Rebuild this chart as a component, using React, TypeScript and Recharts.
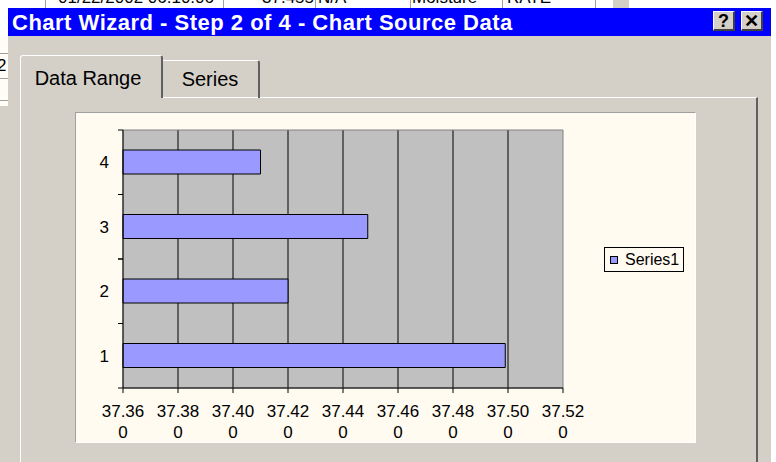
import React from "react";
import {
  BarChart,
  Bar,
  XAxis,
  YAxis,
  CartesianGrid,
  Legend,
  ReferenceArea,
} from "recharts";

const categories = ["1", "2", "3", "4"];
const values = [37.499, 37.42, 37.449, 37.41];
const xTicks = [37.36, 37.38, 37.4, 37.42, 37.44, 37.46, 37.48, 37.5, 37.52];
const seriesName = "Series1";

const FONT = '"Liberation Sans", Arial, sans-serif';
const GRAY = "#d4d0c8";
const CREAM = "#fffbf0";
const BAR = "#9999ff";

const CHART_W = 619;
const CHART_H = 329;
const LEGEND_W = 80;
// right margin leaves room for the legend that recharts reserves on the right
const MARGIN = { top: 17, right: 132 - LEGEND_W, bottom: 14, left: 7 };
const Y_AXIS_W = 40;
const X_AXIS_H = 40;
const PLOT_H = CHART_H - MARGIN.top - MARGIN.bottom - X_AXIS_H;

const data = categories.map((c, i) => ({ cat: c, value: values[i] }));

function YTick({ x = 0, y = 0, payload }: any) {
  const band = PLOT_H / categories.length;
  return (
    <g>
      <line x1={x - 5} x2={x} y1={y - band / 2} y2={y - band / 2} stroke="#000" />
      <line x1={x - 5} x2={x} y1={y + band / 2} y2={y + band / 2} stroke="#000" />
      <text
        x={x - 14}
        y={y + 6}
        textAnchor="end"
        fontFamily={FONT}
        fontSize={17}
        fill="#000"
      >
        {payload.value}
      </text>
    </g>
  );
}

function XTick({ x = 0, y = 0, payload }: any) {
  const label = Number(payload.value).toFixed(3);
  return (
    <g>
      <text textAnchor="middle" fontFamily={FONT} fontSize={17} fill="#000">
        <tspan x={x} y={y + 22}>
          {label.slice(0, -1)}
        </tspan>
        <tspan x={x} y={y + 43}>
          {label.slice(-1)}
        </tspan>
      </text>
    </g>
  );
}

function LegendBox() {
  return (
    <div
      style={{
        width: 78,
        height: 23,
        border: "1px solid #000",
        background: CREAM,
        display: "flex",
        alignItems: "center",
        fontFamily: FONT,
        fontSize: 16,
      }}
    >
      <span
        style={{
          width: 6,
          height: 6,
          border: "1px solid #000",
          background: BAR,
          marginLeft: 5,
          marginRight: 7,
        }}
      />
      <span>{seriesName}</span>
    </div>
  );
}

function SourceChart() {
  return (
    <BarChart
      width={CHART_W}
      height={CHART_H}
      data={data}
      layout="vertical"
      margin={MARGIN}
      barSize={24}
    >
      <CartesianGrid
        horizontal={false}
        stroke="#000"
        fill="#c0c0c0"
        verticalValues={xTicks.slice(1, -1)}
      />
      <ReferenceArea
        x1={xTicks[0]}
        x2={xTicks[xTicks.length - 1]}
        fill="none"
        stroke="#808080"
        ifOverflow="visible"
      />
      <XAxis
        type="number"
        domain={[xTicks[0], xTicks[xTicks.length - 1]]}
        ticks={xTicks}
        interval={0}
        height={X_AXIS_H}
        stroke="#000"
        tickSize={5}
        tick={<XTick />}
      />
      <YAxis
        type="category"
        dataKey="cat"
        reversed
        width={Y_AXIS_W}
        stroke="#000"
        tickLine={false}
        tickSize={0}
        tickMargin={0}
        interval={0}
        tick={<YTick />}
      />
      <Legend
        layout="vertical"
        align="right"
        verticalAlign="middle"
        content={<LegendBox />}
        wrapperStyle={{ left: 528, top: 134, width: LEGEND_W, height: 25 }}
      />
      <Bar
        dataKey="value"
        name={seriesName}
        fill={BAR}
        stroke="#000"
        strokeWidth={1}
        isAnimationActive={false}
      />
    </BarChart>
  );
}

const sheetCells = [
  { text: "01/22/2002 06:10:06", left: 58 },
  { text: "37.455", left: 262 },
  { text: "N/A", left: 318 },
  { text: "Moisture", left: 412 },
  { text: "RATE", left: 507 },
];
const sheetLines = [45, 223, 315, 410, 502, 595];

function TitleButton({ left, glyph }: { left: number; glyph: string }) {
  return (
    <div
      style={{
        position: "absolute",
        left,
        top: 11,
        width: 22,
        height: 20,
        background: GRAY,
        borderTop: "1px solid #fff",
        borderLeft: "1px solid #fff",
        borderRight: "2px solid #404040",
        borderBottom: "2px solid #404040",
        boxSizing: "border-box",
        fontFamily: FONT,
        fontWeight: "bold",
        fontSize: 18,
        lineHeight: "18px",
        textAlign: "center",
        color: "#000",
      }}
    >
      {glyph}
    </div>
  );
}

export default function App() {
  return (
    <div
      style={{
        position: "fixed",
        left: 0,
        top: 0,
        width: 776,
        height: 462,
        overflow: "hidden",
        background: "#fff",
        fontFamily: FONT,
      }}
    >
      {/* spreadsheet strip behind the dialog */}
      <div style={{ position: "absolute", left: 0, top: 0, width: 776, height: 8, overflow: "hidden" }}>
        {sheetCells.map((c) => (
          <div
            key={c.text}
            style={{ position: "absolute", left: c.left, top: -12, fontSize: 17, color: "#000" }}
          >
            {c.text}
          </div>
        ))}
        {sheetLines.map((x) => (
          <div key={x} style={{ position: "absolute", left: x, top: 0, width: 1, height: 8, background: "#a0a0a0" }} />
        ))}
        <div style={{ position: "absolute", left: 613, top: 0, width: 16, height: 8, background: GRAY }} />
      </div>
      <div style={{ position: "absolute", left: 0, top: 36, width: 8, height: 70, background: "#fffdf6" }}>
        {[17, 42, 64].map((y) => (
          <div key={y} style={{ position: "absolute", left: 0, top: y, width: 8, height: 1, background: "#a0a0a0" }} />
        ))}
        <div style={{ position: "absolute", left: -3, top: 20, fontSize: 17 }}>2</div>
      </div>
      <div style={{ position: "absolute", left: 0, top: 106, width: 8, height: 356, background: GRAY }} />

      {/* dialog */}
      <div style={{ position: "absolute", left: 8, top: 8, width: 763, height: 454, background: GRAY }}>
        <div
          style={{
            position: "absolute",
            left: 0,
            top: 0,
            width: 763,
            height: 28,
            background: "#0000ff",
            color: "#fff",
            fontWeight: "bold",
            fontSize: 22,
            letterSpacing: 0.5,
            lineHeight: "29px",
            paddingLeft: 4,
            boxSizing: "border-box",
            whiteSpace: "nowrap",
          }}
        >
          Chart Wizard - Step 2 of 4 - Chart Source Data
        </div>
      </div>
      <TitleButton left={713} glyph="?" />
      <TitleButton left={741} glyph="✕" />

      {/* tab panel */}
      <div
        style={{
          position: "absolute",
          left: 20,
          top: 97,
          width: 738,
          height: 380,
          borderTop: "1px solid #fff",
          borderLeft: "1px solid #fff",
          borderRight: "2px solid #606060",
          boxSizing: "border-box",
        }}
      />
      <div
        style={{
          position: "absolute",
          left: 162,
          top: 60,
          width: 98,
          height: 38,
          borderTop: "1px solid #fff",
          borderRight: "2px solid #606060",
          borderTopRightRadius: 3,
          boxSizing: "border-box",
          fontSize: 20,
          lineHeight: "36px",
          textAlign: "center",
          color: "#000",
        }}
      >
        Series
      </div>
      <div
        style={{
          position: "absolute",
          left: 20,
          top: 55,
          width: 143,
          height: 43,
          background: GRAY,
          borderTop: "1px solid #fff",
          borderLeft: "1px solid #fff",
          borderRight: "2px solid #606060",
          borderTopLeftRadius: 3,
          borderTopRightRadius: 3,
          boxSizing: "border-box",
          fontSize: 20,
          lineHeight: "44px",
          paddingRight: 6,
          textAlign: "center",
          color: "#000",
        }}
      >
        Data Range
      </div>

      {/* chart area */}
      <div
        style={{
          position: "absolute",
          left: 75,
          top: 112,
          width: CHART_W + 2,
          height: CHART_H + 2,
          background: CREAM,
          borderTop: "1px solid #a0a0a0",
          borderLeft: "1px solid #a0a0a0",
          borderRight: "1px solid #fff",
          borderBottom: "1px solid #fff",
          boxSizing: "border-box",
        }}
      >
        <SourceChart />
      </div>
    </div>
  );
}
